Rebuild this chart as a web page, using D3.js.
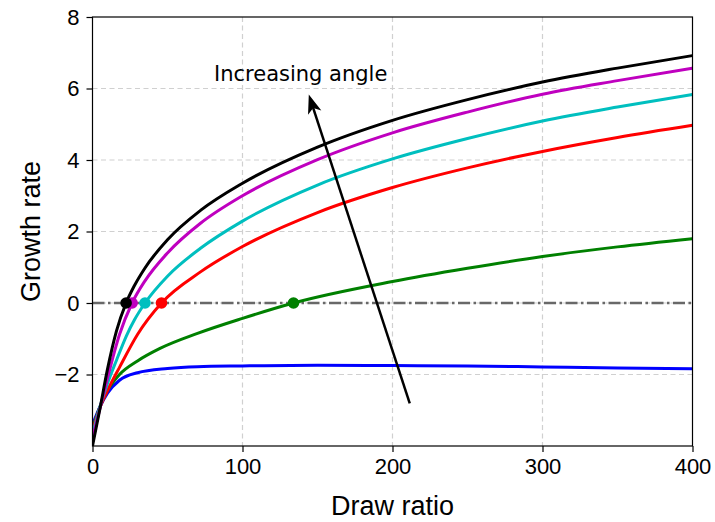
<!DOCTYPE html>
<html>
<head>
<meta charset="utf-8">
<script src="https://cdn.jsdelivr.net/npm/d3@7"></script>
<style>
  body { margin: 0; background: #fff; }
  svg { display: block; }
</style>
</head>
<body>
<svg width="715" height="522"></svg>
<script>
// values, [draw ratio, growth rate]
var blueCurve = [[0.5,-3.35],[5,-2.9],[10,-2.52],[18,-2.16],[30,-1.95],[50,-1.83],[70,-1.78],[100,-1.76],[150,-1.74],[200,-1.75],[250,-1.76],[300,-1.79],[350,-1.82],[400,-1.84]];
var greenCurve = [[0.5,-3.45],[5,-2.9],[10,-2.45],[18,-2.0],[30,-1.62],[45,-1.27],[70,-0.85],[100,-0.43],[134,0],[200,0.6],[250,0.97],[300,1.3],[350,1.57],[400,1.8]];
var redCurve = [[0.5,-3.5],[5,-2.92],[10,-2.45],[18,-1.8],[30,-0.88],[46,0],[72,0.87],[100,1.58],[150,2.53],[200,3.23],[250,3.78],[300,4.24],[350,4.63],[400,4.97]];
var cyanCurve = [[0.5,-3.6],[5,-2.9],[10,-2.25],[16,-1.6],[22.7,-0.91],[28,-0.47],[35,0],[50,0.75],[72,1.53],[100,2.29],[150,3.3],[200,4.03],[250,4.6],[300,5.09],[350,5.48],[400,5.83]];
var magentaCurve = [[0.5,-3.7],[5,-2.95],[10,-2.1],[18,-0.88],[26.4,0],[35,0.62],[50,1.4],[72,2.23],[100,3.0],[150,4.01],[200,4.76],[250,5.34],[300,5.84],[350,6.22],[400,6.57]];
var blackCurve = [[0,-4],[5,-2.95],[10,-1.85],[16,-0.78],[22.4,0],[28,0.49],[35,0.98],[50,1.77],[72,2.59],[100,3.35],[150,4.36],[200,5.11],[250,5.69],[300,6.18],[350,6.57],[400,6.92]];

// where each curve crosses zero growth
var zeroCrossings = [134, 46, 35, 26.4, 22.4];

var xTicks = [0, 100, 200, 300, 400];
var yTicks = [-2, 0, 2, 4, 6, 8];

var curves = [blueCurve, greenCurve, redCurve, cyanCurve, magentaCurve, blackCurve];
var curveColors = ['#0000ff', '#008000', '#ff0000', '#00bfbf', '#bf00bf', '#000000'];
var dotColors = ['#008000', '#ff0000', '#00bfbf', '#bf00bf', '#000000'];

var plotLeft = 92.5, plotRight = 692.5, plotTop = 17, plotBottom = 446;

var xScale = d3.scaleLinear()
    .domain([0, 400])
    .range([plotLeft, plotRight]);

var yScale = d3.scaleLinear()
    .domain([-4, 8])
    .range([plotBottom, plotTop]);

var svg = d3.select('svg');

svg.append('clipPath')
    .attr('id', 'plot')
    .append('rect')
    .attr('x', plotLeft)
    .attr('y', plotTop)
    .attr('width', plotRight - plotLeft)
    .attr('height', plotBottom - plotTop);

// grid
svg.append('g')
    .selectAll('line')
    .data(xTicks.slice(1, -1))
    .enter()
    .append('line')
    .attr('x1', function(d) { return xScale(d); })
    .attr('x2', function(d) { return xScale(d); })
    .attr('y1', plotTop)
    .attr('y2', plotBottom)
    .style('stroke', '#d0d0d0')
    .style('stroke-width', 1.2)
    .style('stroke-dasharray', '5,3.5');

svg.append('g')
    .selectAll('line')
    .data(yTicks.slice(0, -1))
    .enter()
    .append('line')
    .attr('x1', plotLeft)
    .attr('x2', plotRight)
    .attr('y1', function(d) { return yScale(d); })
    .attr('y2', function(d) { return yScale(d); })
    .style('stroke', '#d0d0d0')
    .style('stroke-width', 1.2)
    .style('stroke-dasharray', '5,3.5');

// zero growth line
svg.append('line')
    .attr('x1', xScale(0))
    .attr('x2', xScale(400))
    .attr('y1', yScale(0))
    .attr('y2', yScale(0))
    .style('stroke', '#686868')
    .style('stroke-width', 2.4)
    .style('stroke-dasharray', '12,3.5,2.5,3.5');

var line = d3.line()
    .x(function(d) { return xScale(d[0]); })
    .y(function(d) { return yScale(d[1]); })
    .curve(d3.curveMonotoneX);

svg.append('g')
    .attr('clip-path', 'url(#plot)')
    .selectAll('path')
    .data(curves)
    .enter()
    .append('path')
    .attr('d', line)
    .style('fill', 'none')
    .style('stroke', function(d, i) { return curveColors[i]; })
    .style('stroke-width', 3);

svg.append('g')
    .selectAll('circle')
    .data(zeroCrossings)
    .enter()
    .append('circle')
    .attr('cx', function(d) { return xScale(d); })
    .attr('cy', yScale(0))
    .attr('r', 5.8)
    .style('fill', function(d, i) { return dotColors[i]; });

// frame
svg.append('rect')
    .attr('x', plotLeft)
    .attr('y', plotTop)
    .attr('width', plotRight - plotLeft)
    .attr('height', plotBottom - plotTop)
    .style('fill', 'none')
    .style('stroke', '#000')
    .style('stroke-width', 1.2);

var xAxis = d3.axisBottom(xScale)
    .tickValues(xTicks)
    .tickSize(6)
    .tickSizeOuter(0)
    .tickPadding(6);

var yAxis = d3.axisLeft(yScale)
    .tickValues(yTicks)
    .tickSize(6)
    .tickSizeOuter(0)
    .tickPadding(7);

svg.append('g')
    .attr('class', 'x axis')
    .attr('transform', 'translate(0,' + plotBottom + ')')
    .call(xAxis);

svg.append('g')
    .attr('class', 'y axis')
    .attr('transform', 'translate(' + plotLeft + ',0)')
    .call(yAxis);

svg.selectAll('.axis .domain').remove();
svg.selectAll('.axis line').style('stroke', '#000').style('stroke-width', 1.2);
svg.selectAll('.axis text')
    .style('font-family', '"Liberation Sans", Arial, sans-serif')
    .style('font-size', '22px')
    .style('fill', '#000');

svg.append('text')
    .attr('class', 'x label')
    .attr('transform', 'translate(' + ((plotLeft + plotRight) / 2) + ',515)')
    .attr('text-anchor', 'middle')
    .style('font-family', '"Liberation Sans", Arial, sans-serif')
    .style('font-size', '27px')
    .text('Draw ratio');

svg.append('text')
    .attr('class', 'y label')
    .attr('transform', 'translate(40,' + ((plotTop + plotBottom) / 2) + ')rotate(-90)')
    .attr('text-anchor', 'middle')
    .style('font-family', '"Liberation Sans", Arial, sans-serif')
    .style('font-size', '27px')
    .text('Growth rate');

// annotation arrow
var arrowTail = [211.5, -2.81], arrowHead = [144.2, 5.83];
var hx = xScale(arrowHead[0]), hy = yScale(arrowHead[1]);
var tx = xScale(arrowTail[0]), ty = yScale(arrowTail[1]);
var ang = Math.atan2(hy - ty, hx - tx);
var headLen = 19, headHalf = 7, notch = 14;
function pt(back, side) {
    return [hx - back * Math.cos(ang) - side * Math.sin(ang),
            hy - back * Math.sin(ang) + side * Math.cos(ang)];
}

svg.append('line')
    .attr('x1', tx)
    .attr('y1', ty)
    .attr('x2', pt(notch, 0)[0])
    .attr('y2', pt(notch, 0)[1])
    .style('stroke', '#000')
    .style('stroke-width', 2.5);

svg.append('path')
    .attr('d', 'M' + [hx, hy] + 'L' + pt(headLen, headHalf) + 'L' + pt(notch, 0) + 'L' + pt(headLen, -headHalf) + 'Z')
    .style('fill', '#000');

svg.append('text')
    .attr('x', xScale(81))
    .attr('y', yScale(6.2))
    .style('font-family', '"DejaVu Sans", sans-serif')
    .style('font-size', '21px')
    .text('Increasing angle');
</script>
</body>
</html>
